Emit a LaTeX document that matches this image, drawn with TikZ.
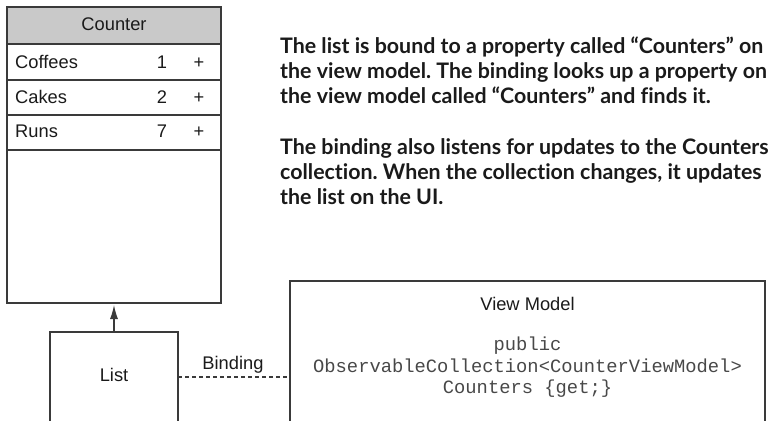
\documentclass[tikz,border=0pt]{standalone}
\usepackage{fontspec}
\setmainfont{Liberation Sans}
\setmonofont{Liberation Mono}
\newfontfamily\parfont{Lato}[Ligatures=NoCommon]
\usetikzlibrary{arrows.meta}
\definecolor{linec}{HTML}{3A3A3A}
\definecolor{hdrfill}{HTML}{C9C9C9}
\definecolor{txt}{HTML}{1A1A1A}
\newlength\mylinew
\frenchspacing
\begin{document}
\settowidth\mylinew{\parfont\bfseries\fontsize{10}{12}\selectfont The list is bound to a property called “Counters” on}
\pgfmathsetmacro\pfs{10*483/\mylinew}
\begin{tikzpicture}[x=1pt,y=-1pt,
  box/.style={draw=linec,line width=1.1pt,inner sep=0pt,outer sep=0pt},
  lbl/.style={inner sep=0pt,anchor=base,text=txt,font=\fontsize{18.3}{22}\selectfont},
  lblw/.style={lbl,anchor=base west},
  code/.style={inner sep=0pt,anchor=base,text=txt!80,font=\ttfamily\fontsize{18.8}{22}\selectfont},
  para/.style={inner sep=0pt,anchor=base west,text=txt,font=\parfont\bfseries\fontsize{\pfs}{25}\selectfont},
  conn/.style={draw=linec,line width=1.1pt}]
\useasboundingbox (0,0) rectangle (770,420);
\clip (0,0) rectangle (770,420);
% Counter box
\node[box,anchor=north west,minimum width=214pt,minimum height=296pt] (counter) at (7,7) {};
\node[box,fill=hdrfill,anchor=north west,minimum width=214pt,minimum height=37pt] (hdr) at (7,7) {};
\node[box,anchor=north west,minimum width=214pt,minimum height=36pt] (row1) at (7,44) {};
\node[box,anchor=north west,minimum width=214pt,minimum height=35pt] (row2) at (7,80) {};
\node[box,anchor=north west,minimum width=214pt,minimum height=35pt] (row3) at (7,115) {};
\node[lbl] (hdrt) at (114,31) {Counter};
\node[lblw] (n1) at (15,68.5) {Coffees};
\node[lbl] (v1) at (162,68.5) {1};
\node[lbl] (p1) at (199,68.5) {+};
\node[lblw] (n2) at (15,103) {Cakes};
\node[lbl] (v2) at (162,103) {2};
\node[lbl] (p2) at (199,103) {+};
\node[lblw] (n3) at (15,137.5) {Runs};
\node[lbl] (v3) at (162,137.5) {7};
\node[lbl] (p3) at (199,137.5) {+};
% List box
\node[box,anchor=north west,minimum width=128pt,minimum height=110pt] (list) at (50,332) {};
\node[lbl] (listt) at (114,381.5) {List};
% View model box
\node[box,anchor=north west,minimum width=475pt,minimum height=160pt] (vm) at (290,281) {};
\node[lbl] (vmt) at (527.5,310) {View Model};
\node[code] (c1) at (527.5,350) {public};
\node[code] (c2) at (527.5,372.5) {ObservableCollection<CounterViewModel>};
\node[code] (c3) at (527.5,393) {Counters \{get;\}};
% connectors
\begin{scope}[y=1pt]
\draw[conn,shorten >=2pt,-{Latex[length=14pt,width=8pt]}] (list.north) -- (counter.south);
\end{scope}
\coordinate (bindy) at (0,377);
\draw[conn,dash pattern=on 4pt off 3pt] (list.east |- bindy) -- (vm.west |- bindy);
\node[lbl] (bind) at (233,369) {Binding};
% paragraphs
\node[para] (a1) at (280,53) {The list is bound to a property called “Counters” on};
\node[para] (a2) at (280,78) {the view model. The binding looks up a property on};
\node[para] (a3) at (280,103) {the view model called “Counters” and finds it.};
\node[para] (b1) at (280,154) {The binding also listens for updates to the Counters};
\node[para] (b2) at (280,179) {collection. When the collection changes, it updates};
\node[para] (b3) at (280,204) {the list on the UI.};
\end{tikzpicture}
\end{document}
